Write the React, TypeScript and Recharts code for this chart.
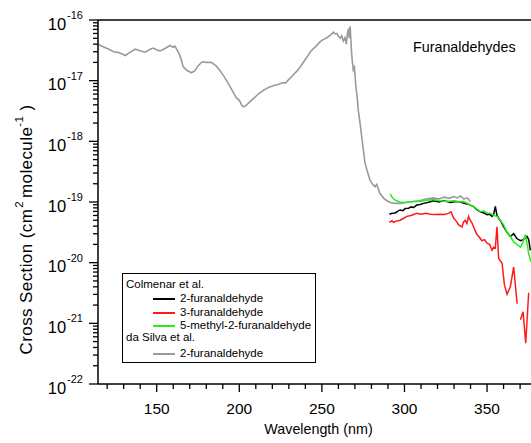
import { LineChart, Line, XAxis, YAxis, ReferenceLine, Legend, Label } from "recharts";

// wavelength (nm), cross section (cm2 molecule-1)
const daSilva2F: [number, number][] = [
	[115, 3.9e-17], [118, 3.6e-17], [121, 3.3e-17], [124, 3.0e-17], [127, 2.9e-17],
	[131, 2.6e-17], [134, 2.95e-17], [137, 3.3e-17], [140, 3.1e-17], [143, 2.95e-17],
	[146, 3.3e-17], [148, 3.45e-17], [150, 3.2e-17], [152, 3.1e-17], [155, 3.4e-17],
	[158, 3.8e-17], [160, 3.55e-17], [161, 3.7e-17], [163, 3.0e-17], [164.5, 2.4e-17],
	[166, 1.7e-17], [168, 1.5e-17], [171, 1.35e-17], [173, 1.45e-17], [175, 1.75e-17],
	[177.5, 2.05e-17], [180, 2.0e-17], [183, 2.0e-17], [186, 1.75e-17], [188, 1.5e-17],
	[190.5, 1.2e-17], [192.5, 9.8e-18], [194.5, 7.9e-18], [196.5, 6.3e-18], [198.5, 5.1e-18],
	[199.5, 4.9e-18], [200.5, 4.5e-18], [201.5, 3.9e-18], [202.5, 3.7e-18], [204, 3.9e-18],
	[206.5, 4.5e-18], [209, 5.2e-18], [212, 6.2e-18], [215.5, 7.2e-18], [218, 7.8e-18],
	[221, 8.3e-18], [224, 8.7e-18], [226.5, 9.3e-18], [228, 9.1e-18], [230, 1.05e-17],
	[232.5, 1.23e-17], [235, 1.45e-17], [237, 1.7e-17], [239, 2.05e-17], [241, 2.45e-17],
	[243, 3.0e-17], [246, 3.6e-17], [249, 4.4e-17], [251, 4.8e-17], [253, 5.1e-17],
	[255, 5.6e-17], [257, 6.3e-17], [258, 5.9e-17], [259, 6.0e-17], [260, 5.4e-17],
	[261, 5.0e-17], [262, 5.5e-17], [263, 4.5e-17], [264, 5.1e-17], [264.8, 4.0e-17],
	[265.5, 6.0e-17], [266.1, 7.2e-17], [266.6, 5.0e-17], [267.1, 7.9e-17], [267.6, 4.5e-17],
	[268, 2.8e-17], [268.5, 2.0e-17], [269, 1.5e-17], [269.7, 1.65e-17], [270.6, 7.9e-18],
	[271.3, 5.6e-18], [272, 3.3e-18], [273, 2.1e-18], [274.1, 1.2e-18], [275, 7.6e-19],
	[276.1, 4.4e-19], [277.5, 3.2e-19], [279.1, 2.3e-19], [280.5, 2.0e-19], [282.2, 1.78e-19],
	[283.2, 1.95e-19], [285.2, 1.38e-19], [287.5, 1.15e-19], [289.4, 1.05e-19], [291.3, 9.8e-20],
	[294, 9.5e-20], [297.4, 9.5e-20], [301, 9.8e-20], [305.3, 1.02e-19], [309, 1.05e-19],
	[313, 1.12e-19], [317.5, 1.17e-19], [321, 1.12e-19], [324, 1.2e-19], [327, 1.15e-19],
	[330, 1.23e-19], [331.8, 1.17e-19], [334, 1.26e-19], [336, 1.12e-19], [338, 1.17e-19],
	[340, 1.02e-19],
];

const colmenar2F: [number, number][] = [
	[290.9, 6.3e-20], [292.5, 6.5e-20], [294.4, 6.6e-20], [296, 7.1e-20], [297.4, 7.4e-20],
	[299, 7.2e-20], [300.5, 7.8e-20], [302.5, 7.9e-20], [304, 8.3e-20], [305.5, 8.1e-20],
	[307.5, 8.9e-20], [309.5, 9.1e-20], [311.6, 9.5e-20], [314, 9.8e-20], [317.6, 1.05e-19],
	[321, 1.0e-19], [323.5, 1.05e-19], [325.7, 1.02e-19], [328, 9.8e-20], [331, 1.02e-19],
	[333.8, 1.0e-19], [336, 9.5e-20], [338, 9.3e-20], [339.9, 8.9e-20], [342, 8.3e-20],
	[344, 7.4e-20], [345.9, 6.9e-20], [348, 6.6e-20], [350, 6.2e-20], [351.5, 6.3e-20],
	[353, 5.8e-20], [354, 6.3e-20], [355, 8.5e-20], [356, 6.0e-20], [357, 5.4e-20],
	[358.5, 4.7e-20], [360.1, 3.9e-20], [362, 3.2e-20], [364.1, 2.7e-20], [366.1, 3.0e-20],
	[368, 2.5e-20], [370.2, 2.3e-20], [372, 2.4e-20], [374.2, 2.7e-20], [375.2, 2.4e-20],
	[376.2, 1.6e-20],
];

const colmenar3F: [number, number | null][] = [
	[290.9, 4.6e-20], [292.5, 4.9e-20], [293.5, 4.6e-20], [294.4, 4.8e-20], [296, 4.9e-20],
	[297.4, 5.0e-20], [299.5, 5.4e-20], [301.5, 5.8e-20], [304, 6.0e-20], [307.5, 6.5e-20],
	[310, 6.3e-20], [313, 6.5e-20], [315.6, 6.3e-20], [318.5, 6.2e-20], [321.7, 6.3e-20],
	[324, 6.2e-20], [326.7, 6.5e-20], [328.2, 6.9e-20], [329.8, 5.4e-20], [331.5, 4.8e-20],
	[332.8, 4.2e-20], [334.8, 3.9e-20], [335.8, 4.7e-20], [336.8, 5.0e-20], [337.8, 4.4e-20],
	[338.8, 5.8e-20], [339.8, 5.0e-20], [340.9, 4.5e-20], [342.5, 3.5e-20], [343.9, 2.9e-20],
	[345.5, 2.6e-20], [346.9, 2.3e-20], [348.5, 2.4e-20], [350, 2.1e-20], [351.5, 2.0e-20],
	[353, 1.6e-20], [354, 1.8e-20], [355, 1.74e-20], [356, 3.9e-20], [357, 1.17e-20],
	[359.1, 9.8e-21], [360.5, 4.3e-21], [362.1, 3.0e-21], [364.1, 4.0e-21], [366.1, 8.5e-21],
	[368.2, 2.1e-21], [369.2, null], [370.2, 1.15e-21], [371.8, 1.55e-21], [373.4, 4.7e-22],
	[375.2, 3.2e-21],
];

const colmenar5M2F: [number, number][] = [
	[291.4, 1.35e-19], [292.5, 1.2e-19], [294.4, 1.07e-19], [297, 1.0e-19], [300.5, 9.8e-20],
	[303, 1.0e-19], [306, 1.02e-19], [309.6, 1.02e-19], [313, 1.07e-19], [317.6, 1.1e-19],
	[321, 1.05e-19], [325.7, 1.02e-19], [330, 1.05e-19], [333, 1.0e-19], [335.8, 1.02e-19],
	[338, 9.5e-20], [340, 8.9e-20], [341.9, 8.3e-20], [344, 7.6e-20], [345.9, 6.9e-20],
	[348, 7.1e-20], [350, 6.6e-20], [352, 6.5e-20], [354, 6.0e-20], [356, 5.8e-20],
	[358, 5.0e-20], [360, 4.2e-20], [362.1, 3.2e-20], [364, 2.75e-20], [366.1, 2.2e-20],
	[368, 2.0e-20], [370.2, 1.8e-20], [371.5, 2.1e-20], [373.2, 2.9e-20], [374.3, 2.0e-20],
	[375.2, 1.4e-20], [376.6, 1.02e-20],
];

const xMajor = [150, 200, 250, 300, 350];
const xTicks = [120, 130, 140, 150, 160, 170, 180, 190, 200, 210, 220, 230, 240, 250, 260, 270, 280, 290, 300, 310, 320, 330, 340, 350, 360, 370];
const yExponents = [-22, -21, -20, -19, -18, -17, -16];

const GREY = "#9a9a9a";
const BLACK = "#000000";
const RED = "#ff1a1a";
const GREEN = "#22ee22";
const FONT = "'Liberation Sans', Arial, Helvetica, sans-serif";

const legendRows = [
	{ text: "Colmenar et al.", color: null, top: 10.5 },
	{ text: "2-furanaldehyde", color: BLACK, top: 24.7 },
	{ text: "3-furanaldehyde", color: RED, top: 38 },
	{ text: "5-methyl-2-furanaldehyde", color: GREEN, top: 51 },
	{ text: "da Silva et al.", color: null, top: 63.7 },
	{ text: "2-furanaldehyde", color: GREY, top: 79.5 },
];

const yTicks: number[] = [];
yExponents.forEach((e, i) => {
	if (i === yExponents.length - 1) {
		yTicks.push(Math.pow(10, e));
		return;
	}
	for (let m = 1; m <= 9; m++) yTicks.push(m * Math.pow(10, e));
});

const toPoints = (rows: [number, number | null][]) => rows.map(([x, y]) => ({ x, y }));

const XTick = (props: any) => {
	const { x, y, payload } = props;
	const major = xMajor.includes(payload.value);
	return (
		<g>
			<line x1={x} x2={x} y1={y} y2={y + (major ? 8 : 5)} stroke="#000" strokeWidth={1.3} />
			{major && (
				<text x={x} y={y + 29.5} textAnchor="middle" fontSize={15.5} fontFamily={FONT} fill="#000">
					{payload.value}
				</text>
			)}
		</g>
	);
};

const YTick = (props: any) => {
	const { x, y, payload } = props;
	const lg = Math.log10(payload.value);
	const major = Math.abs(lg - Math.round(lg)) < 1e-6;
	return (
		<g>
			<line x1={x} x2={x - (major ? 9 : 5)} y1={y} y2={y} stroke="#000" strokeWidth={1.3} />
			{major && (
				<text x={x - 15} y={y + 9.5} textAnchor="end" fontFamily={FONT} fill="#000">
					<tspan fontSize={16.5}>10</tspan>
					<tspan fontSize={11} dy={-10.5} dx={1}>{Math.round(lg)}</tspan>
				</text>
			)}
		</g>
	);
};

const YLabel = (props: any) => {
	const vb = props.viewBox || { x: 0, y: 20, width: 98, height: 364 };
	const cx = vb.x + 31.5;
	const cy = vb.y + vb.height / 2 + 27.5;
	return (
		<text
			x={cx}
			y={cy}
			transform={`rotate(-90 ${cx} ${cy})`}
			textAnchor="middle"
			fontFamily={FONT}
			fontSize={17}
			letterSpacing={0.4}
			fill="#000"
		>
			Cross Section (cm
			<tspan fontSize={11.5} dy={-8.5} dx={1}>2</tspan>
			<tspan dy={8.5} dx={3}>molecule</tspan>
			<tspan fontSize={11.5} dy={-8.5}>-1</tspan>
			<tspan dy={8.5}> )</tspan>
		</text>
	);
};

const Title = (props: any) => {
	const vb = props.viewBox || { x: 98, y: 20 };
	return (
		<text x={vb.x + 315} y={vb.y + 32} fontFamily={FONT} fontSize={14.3} fill="#000">
			Furanaldehydes
		</text>
	);
};

const LegendBox = () => (
	<div
		style={{
			position: "relative",
			width: 194,
			height: 90,
			border: "1px solid #000",
			boxSizing: "border-box",
			fontFamily: FONT,
			fontSize: 11.5,
			color: "#000",
			background: "#fff",
		}}
	>
		{legendRows.map((r, i) => (
			<div key={i} style={{ position: "absolute", top: Math.round(r.top - 7.5), left: 0, height: 15, lineHeight: "15px", whiteSpace: "nowrap" }}>
				{r.color === null ? (
					<span style={{ position: "absolute", left: 3 }}>{r.text}</span>
				) : (
					<>
						<span style={{ position: "absolute", left: 30, top: 7, width: 22, height: 2, background: r.color }} />
						<span style={{ position: "absolute", left: 57 }}>{r.text}</span>
					</>
				)}
			</div>
		))}
	</div>
);

export default function App() {
	return (
		<div style={{ position: "absolute", left: 0, top: 0, background: "#fff" }}>
			<LineChart width={531} height={443} margin={{ top: 20, right: 0, left: 0, bottom: 0 }}>
				<XAxis
					dataKey="x"
					type="number"
					domain={[114.46, 376.6]}
					allowDataOverflow
					ticks={xTicks}
					interval={0}
					tick={<XTick />}
					tickLine={false}
					tickSize={0}
					tickMargin={0}
					height={59}
					axisLine={{ stroke: "#000", strokeWidth: 1.5 }}
				>
					<Label
						value="Wavelength (nm)"
						position="insideBottom"
						offset={9}
						dx={4}
						style={{ fontFamily: FONT, fontSize: 14.3, fill: "#000" }}
					/>
				</XAxis>
				<YAxis
					type="number"
					scale="log"
					domain={[1e-22, 1e-16]}
					allowDataOverflow
					ticks={yTicks}
					interval={0}
					width={98}
					tick={<YTick />}
					tickLine={false}
					tickSize={0}
					tickMargin={0}
					axisLine={{ stroke: "#000", strokeWidth: 1.5 }}
				>
					<Label content={<YLabel />} />
				</YAxis>
				<ReferenceLine y={1e-16} stroke="#000" strokeWidth={1.5} label={<Title />} />
				<Line data={toPoints(daSilva2F)} dataKey="y" stroke={GREY} strokeWidth={1.6} dot={false} isAnimationActive={false} />
				<Line data={toPoints(colmenar3F)} dataKey="y" stroke={RED} strokeWidth={1.5} dot={false} isAnimationActive={false} />
				<Line data={toPoints(colmenar2F)} dataKey="y" stroke={BLACK} strokeWidth={1.5} dot={false} isAnimationActive={false} />
				<Line data={toPoints(colmenar5M2F)} dataKey="y" stroke={GREEN} strokeWidth={1.5} dot={false} isAnimationActive={false} />
				<Legend
					layout="vertical"
					align="center"
					verticalAlign="middle"
					wrapperStyle={{ left: 122, top: 273, width: 194, height: 90 }}
					content={<LegendBox />}
				/>
			</LineChart>
		</div>
	);
}
